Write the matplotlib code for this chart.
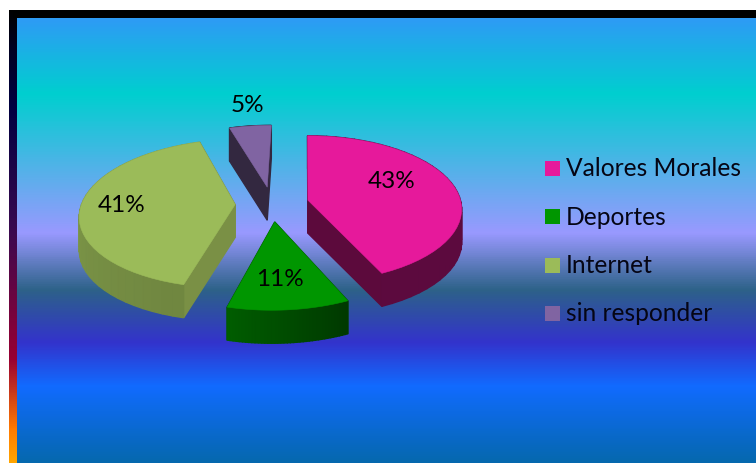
import numpy as np
import matplotlib
matplotlib.use('Agg')
import matplotlib.pyplot as plt
from matplotlib.colors import LinearSegmentedColormap, to_rgb
from matplotlib.patches import Polygon, Rectangle

# data
categories = ['Valores Morales', 'Deportes', 'Internet', 'sin responder']
values = [43, 11, 41, 5]
colors = ['#E6199B', '#009600', '#9BBB59', '#8064A2']
cut_colors = ['#5C0A3C', '#005000', '#7A9045', '#332840']
# shade of the outer wall at the start and the end of each slice
wall_shade = [(0.40, 0.40), (0.38, 0.62), (0.72, 0.88), (0.4, 0.4)]
label_xy = [(392, 182), (280, 280), (122, 206), (247, 106)]

# background gradients, top to bottom
bg_y = [18, 93, 233, 290, 343, 387, 463]
bg_colors = ['#2E9BF5', '#00CFCF', '#9999FF', '#2D6288', '#3333CC', '#116BFF', '#0568AE']
bar_y = [10, 45, 105, 230, 360, 430, 463]
bar_colors = ['#000000', '#000020', '#000040', '#3A0A50', '#990033', '#FF7A00', '#FFA500']

# pie geometry in pixels
cx, cy = 272, 204
rx, ry = 153.5, 73
persp = 0.12
skew = 3.5
explode = 0.24
depth = 33


def project(u, v):
    s = 1 / (1 + persp * v)
    return cx + rx * u * s + skew * v, cy - ry * v * s


def gradient(ax, ys, cols, extent):
    t = (np.array(ys) - ys[0]) / (ys[-1] - ys[0])
    cmap = LinearSegmentedColormap.from_list('g', list(zip(t, cols)))
    img = np.linspace(0, 1, 500).reshape(-1, 1)
    ax.imshow(img, cmap=cmap, extent=extent, aspect='auto', zorder=1)


def shaded(col, f):
    return tuple(c * f for c in to_rgb(col))


fig = plt.figure(figsize=(7.56, 4.63), dpi=100)
ax = fig.add_axes([0, 0, 1, 1])
plt.rcParams['font.family'] = ['Lato', 'DejaVu Sans']

gradient(ax, bg_y, bg_colors, (17, 756, 463, 18))
gradient(ax, bar_y, bar_colors, (9, 17, 463, 10))
ax.add_patch(Rectangle((13, 10), 743, 8, color='black', lw=0, zorder=2))
ax.set_xlim(0, 756)
ax.set_ylim(463, 0)
ax.axis('off')

# slices start at 12 o'clock and go clockwise
edges = np.cumsum([0] + values) / sum(values) * 2 * np.pi
for i in [3, 2, 0, 1]:
    a0, a1 = edges[i], edges[i + 1]
    mid = (a0 + a1) / 2
    ou, ov = explode * np.sin(mid), explode * np.cos(mid)
    ang = np.linspace(a0, a1, 40)
    arc = [project(ou + np.sin(a), ov + np.cos(a)) for a in ang]
    apex = project(ou, ov)
    top = [apex] + arc

    faces = []
    for p in (arc[0], arc[-1]):
        faces.append(([apex, p], cut_colors[i]))
    for k in range(len(arc) - 1):
        t = k / (len(arc) - 2)
        f = wall_shade[i][0] + (wall_shade[i][1] - wall_shade[i][0]) * t
        faces.append(([arc[k], arc[k + 1]], shaded(colors[i], f)))
    # back walls first
    faces.sort(key=lambda q: (q[0][0][1] + q[0][1][1]) / 2)
    for (p, q), c in faces:
        poly = [p, q, (q[0], q[1] + depth), (p[0], p[1] + depth)]
        ax.add_patch(Polygon(poly, fc=c, ec=c, lw=1.0, zorder=3))
    ax.add_patch(Polygon(top, fc=colors[i], ec=colors[i], lw=0.4, zorder=3))

for v, (x, y) in zip(values, label_xy):
    ax.text(x, y, f'{v}%', fontsize=17.5, color='black', ha='center', va='center', zorder=5)

# legend
for i, name in enumerate(categories):
    y = 168.5 + 48.3 * i
    ax.add_patch(Rectangle((545, y - 7.5), 15, 15, fc=colors[i], lw=0, zorder=4))
    ax.text(566, y + 0.5, name, fontsize=17.7, color='#050514', ha='left', va='center', zorder=5)

fig.savefig('out.png', dpi=100)
